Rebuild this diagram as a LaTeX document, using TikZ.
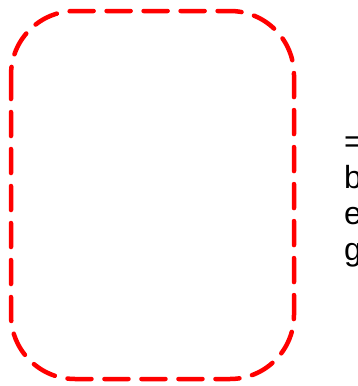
\documentclass[tikz,border=0pt]{standalone}
\usepackage{fontspec}
\setmainfont{Liberation Sans}
\begin{document}
\begin{tikzpicture}[x=1pt,y=-1pt,
  frame/.style={draw=red, line width=4.5pt, dash pattern=on 24pt off 13pt, line cap=round, rounded corners=64pt},
  label/.style={font=\fontsize{32}{36}\selectfont, align=left, anchor=north west, inner sep=0pt}]
\useasboundingbox (0,0) rectangle (357,386);
\clip (0,0) rectangle (357,386);
\draw[frame] (11,11) rectangle (294,379);
\node[label] (txt) at (344,137) {=\\b\\e\\g};
\end{tikzpicture}
\end{document}
